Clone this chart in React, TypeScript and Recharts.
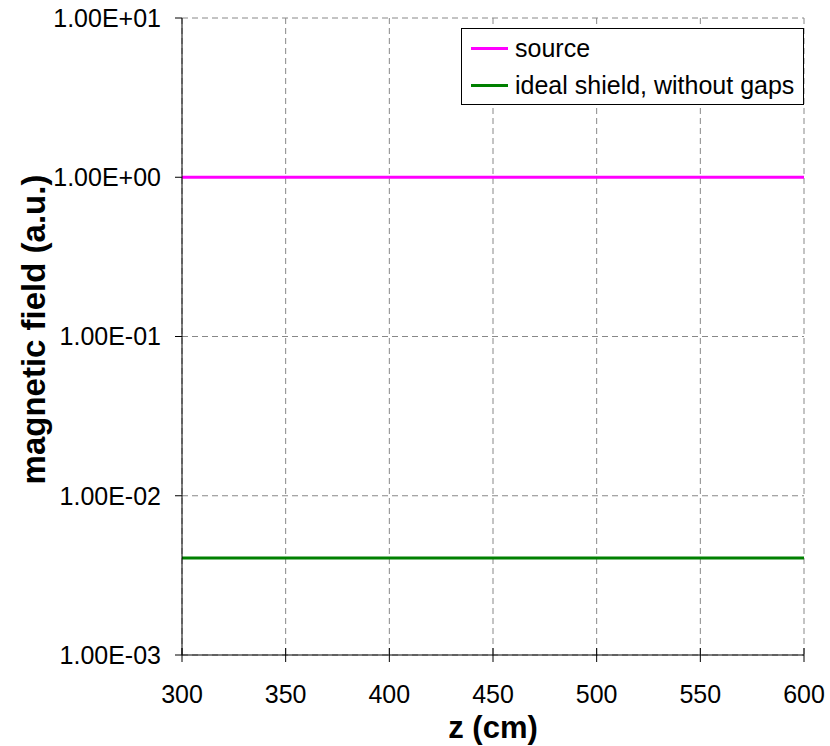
import { LineChart, Line, XAxis, YAxis, CartesianGrid, Legend } from "recharts";

const zValues = [300, 350, 400, 450, 500, 550, 600];
const sourceField = [1.0, 1.0, 1.0, 1.0, 1.0, 1.0, 1.0];
const shieldField = [0.00406, 0.00406, 0.00406, 0.00406, 0.00406, 0.00406, 0.00406];
const xTicks = [300, 350, 400, 450, 500, 550, 600];
const yTicks = [0.001, 0.01, 0.1, 1, 10];

const seriesNames = { source: "source", shield: "ideal shield, without gaps" };
const colors = { source: "#FF00FF", shield: "#008000" };

const data = zValues.map((z, i) => ({ z, source: sourceField[i], shield: shieldField[i] }));

const FONT = "Arial, 'Liberation Sans', sans-serif";
const X_TICK_SIZE = 7;
const X_TICK_MARGIN = 23;

// Excel style: 1.00E+01
const fmtExp = (v: number) => {
  const [m, e] = v.toExponential(2).split("e");
  const n = parseInt(e, 10);
  return `${m}E${n < 0 ? "-" : "+"}${String(Math.abs(n)).padStart(2, "0")}`;
};

// x ticks cross the axis line, like Excel's "cross" tick marks
function XTick(props: any) {
  const { x, y, payload } = props;
  const axisY = y - X_TICK_SIZE - X_TICK_MARGIN;
  return (
    <g>
      <line x1={x} x2={x} y1={axisY - X_TICK_SIZE} y2={axisY + X_TICK_SIZE} stroke="#000" />
      <text x={x} y={y} dy="0.71em" textAnchor="middle" fill="#000" fontSize={25} fontFamily={FONT}>
        {payload.value}
      </text>
    </g>
  );
}

function LegendBox() {
  const items = [
    { key: "source", label: seriesNames.source, color: colors.source },
    { key: "shield", label: seriesNames.shield, color: colors.shield },
  ];
  return (
    <div
      style={{
        border: "1px solid #000",
        background: "#fff",
        padding: "1px 8px 0 9px",
        fontFamily: FONT,
        fontSize: 25,
        color: "#000",
        boxSizing: "border-box",
      }}
    >
      {items.map((it) => (
        <div key={it.key} style={{ display: "flex", alignItems: "center", height: 37, whiteSpace: "nowrap" }}>
          <span style={{ display: "inline-block", width: 37, height: 3, background: it.color, marginRight: 7 }} />
          <span>{it.label}</span>
        </div>
      ))}
    </div>
  );
}

export default function App() {
  return (
    <div style={{ position: "absolute", left: 0, top: 0, background: "#fff" }}>
      <LineChart width={830} height={746} data={data} margin={{ top: 18, right: 26, bottom: 0, left: 0 }}>
        <CartesianGrid stroke="#888" strokeDasharray="6 4" />
        <XAxis
          dataKey="z"
          type="number"
          domain={[300, 600]}
          ticks={xTicks}
          height={91}
          stroke="#000"
          tickLine={false}
          tickSize={X_TICK_SIZE}
          tickMargin={X_TICK_MARGIN}
          tick={<XTick />}
          label={{ value: "z (cm)", position: "center", dy: 26, style: { fontSize: 31, fontWeight: "bold", fontFamily: FONT, fill: "#000" } }}
        />
        <YAxis
          scale="log"
          domain={[0.001, 10]}
          ticks={yTicks}
          allowDataOverflow
          width={182}
          stroke="#000"
          tickSize={7}
          tickMargin={14}
          tickFormatter={fmtExp}
          tick={{ fill: "#000", fontSize: 25, fontFamily: FONT }}
          label={{ value: "magnetic field (a.u.)", angle: -90, position: "center", dx: -58, dy: -7, style: { fontSize: 33, fontWeight: "bold", fontFamily: FONT, fill: "#000", textAnchor: "middle" } }}
        />
        <Legend
          layout="horizontal"
          verticalAlign="middle"
          align="center"
          content={<LegendBox />}
          wrapperStyle={{ position: "absolute", left: 461, top: 28, width: 343 }}
        />
        <Line dataKey="source" name={seriesNames.source} stroke={colors.source} strokeWidth={3} dot={false} isAnimationActive={false} />
        <Line dataKey="shield" name={seriesNames.shield} stroke={colors.shield} strokeWidth={3} dot={false} isAnimationActive={false} />
      </LineChart>
    </div>
  );
}
